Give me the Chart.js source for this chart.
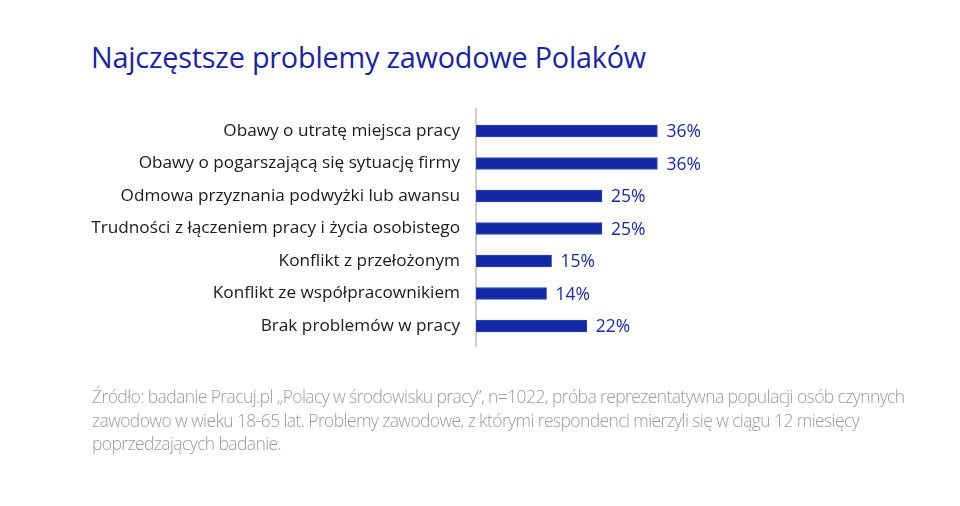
<!DOCTYPE html>
<html>
<head>
<meta charset="utf-8">
<script src="https://cdn.jsdelivr.net/npm/chart.js@4"></script>
<style>
  html, body { margin: 0; padding: 0; background: #fff; }
  #wrap { position: relative; width: 960px; height: 506px; overflow: hidden; }
  #chart { position: absolute; left: 0; top: 0; }
  #title {
    position: absolute; left: 91px; top: 37px; margin: 0;
    font-family: "Open Sans", sans-serif; font-weight: 400; font-size: 28.8px;
    color: #1a24a3; letter-spacing: -0.2px; white-space: nowrap;
  }
  #note {
    position: absolute; left: 92px; top: 385px; margin: 0;
    font-family: "Open Sans", sans-serif; font-weight: 300; font-size: 17.5px;
    line-height: 23.5px; color: #9b9b9b; letter-spacing: -0.6px; white-space: nowrap;
  }
</style>
</head>
<body>
<div id="wrap">
  <h1 id="title">Najczęstsze problemy zawodowe Polaków</h1>
  <canvas id="chart" width="960" height="506"></canvas>
  <p id="note">Źródło: badanie Pracuj.pl „Polacy w środowisku pracy”, n=1022, próba reprezentatywna populacji osób czynnych<br>zawodowo w wieku 18-65 lat. Problemy zawodowe, z którymi respondenci mierzyli się w ciągu 12 miesięcy<br>poprzedzających badanie.</p>
</div>
<script>
// dane
var categories = [
    "Obawy o utratę miejsca pracy",
    "Obawy o pogarszającą się sytuację firmy",
    "Odmowa przyznania podwyżki lub awansu",
    "Trudności z łączeniem pracy i życia osobistego",
    "Konflikt z przełożonym",
    "Konflikt ze współpracownikiem",
    "Brak problemów w pracy"
];
var values = [36, 36, 25, 25, 15, 14, 22];

var barColor = "#1229a6";
var labelColor = "#1a2aa8";

// etykiety z wartościami na końcu słupków
var valueLabels = {
    id: "valueLabels",
    afterDatasetsDraw: function (chart) {
        var ctx = chart.ctx;
        var meta = chart.getDatasetMeta(0);
        ctx.save();
        ctx.font = "17.5px 'Open Sans'";
        ctx.fillStyle = labelColor;
        ctx.textAlign = "left";
        ctx.textBaseline = "middle";
        meta.data.forEach(function (bar, i) {
            ctx.fillText(values[i] + "%", bar.x + 9, bar.y + 1.5);
        });
        ctx.restore();
    }
};

// szara linia osi, troche dluzsza niz obszar wykresu
var axisLine = {
    id: "axisLine",
    beforeDatasetsDraw: function (chart) {
        var ctx = chart.ctx;
        var area = chart.chartArea;
        ctx.save();
        ctx.strokeStyle = "#cfcfcf";
        ctx.lineWidth = 2;
        ctx.beginPath();
        ctx.moveTo(area.left, area.top - 7);
        ctx.lineTo(area.left, area.bottom + 5);
        ctx.stroke();
        ctx.restore();
    }
};

var ctx = document.getElementById("chart").getContext("2d");
var myChart = new Chart(ctx, {
    type: "bar",
    data: {
        labels: categories,
        datasets: [{
            data: values,
            backgroundColor: barColor,
            borderColor: "#2f43b3",
            borderWidth: 1,
            borderSkipped: false,
            barThickness: 12
        }]
    },
    options: {
        indexAxis: "y",
        responsive: false,
        animation: false,
        layout: {
            padding: { top: 114.75, bottom: 163.75, left: 0, right: 181.7 }
        },
        plugins: {
            legend: { display: false },
            tooltip: { enabled: false }
        },
        scales: {
            x: {
                display: false,
                min: 0,
                max: 60
            },
            y: {
                afterFit: function (scale) { scale.width = 476; },
                grid: { display: false, drawTicks: false },
                border: { display: false },
                ticks: {
                    color: "#1a1a1a",
                    padding: 16,
                    font: { family: "Open Sans", size: 17.2 }
                }
            }
        }
    },
    plugins: [valueLabels, axisLine]
});
</script>
</body>
</html>
